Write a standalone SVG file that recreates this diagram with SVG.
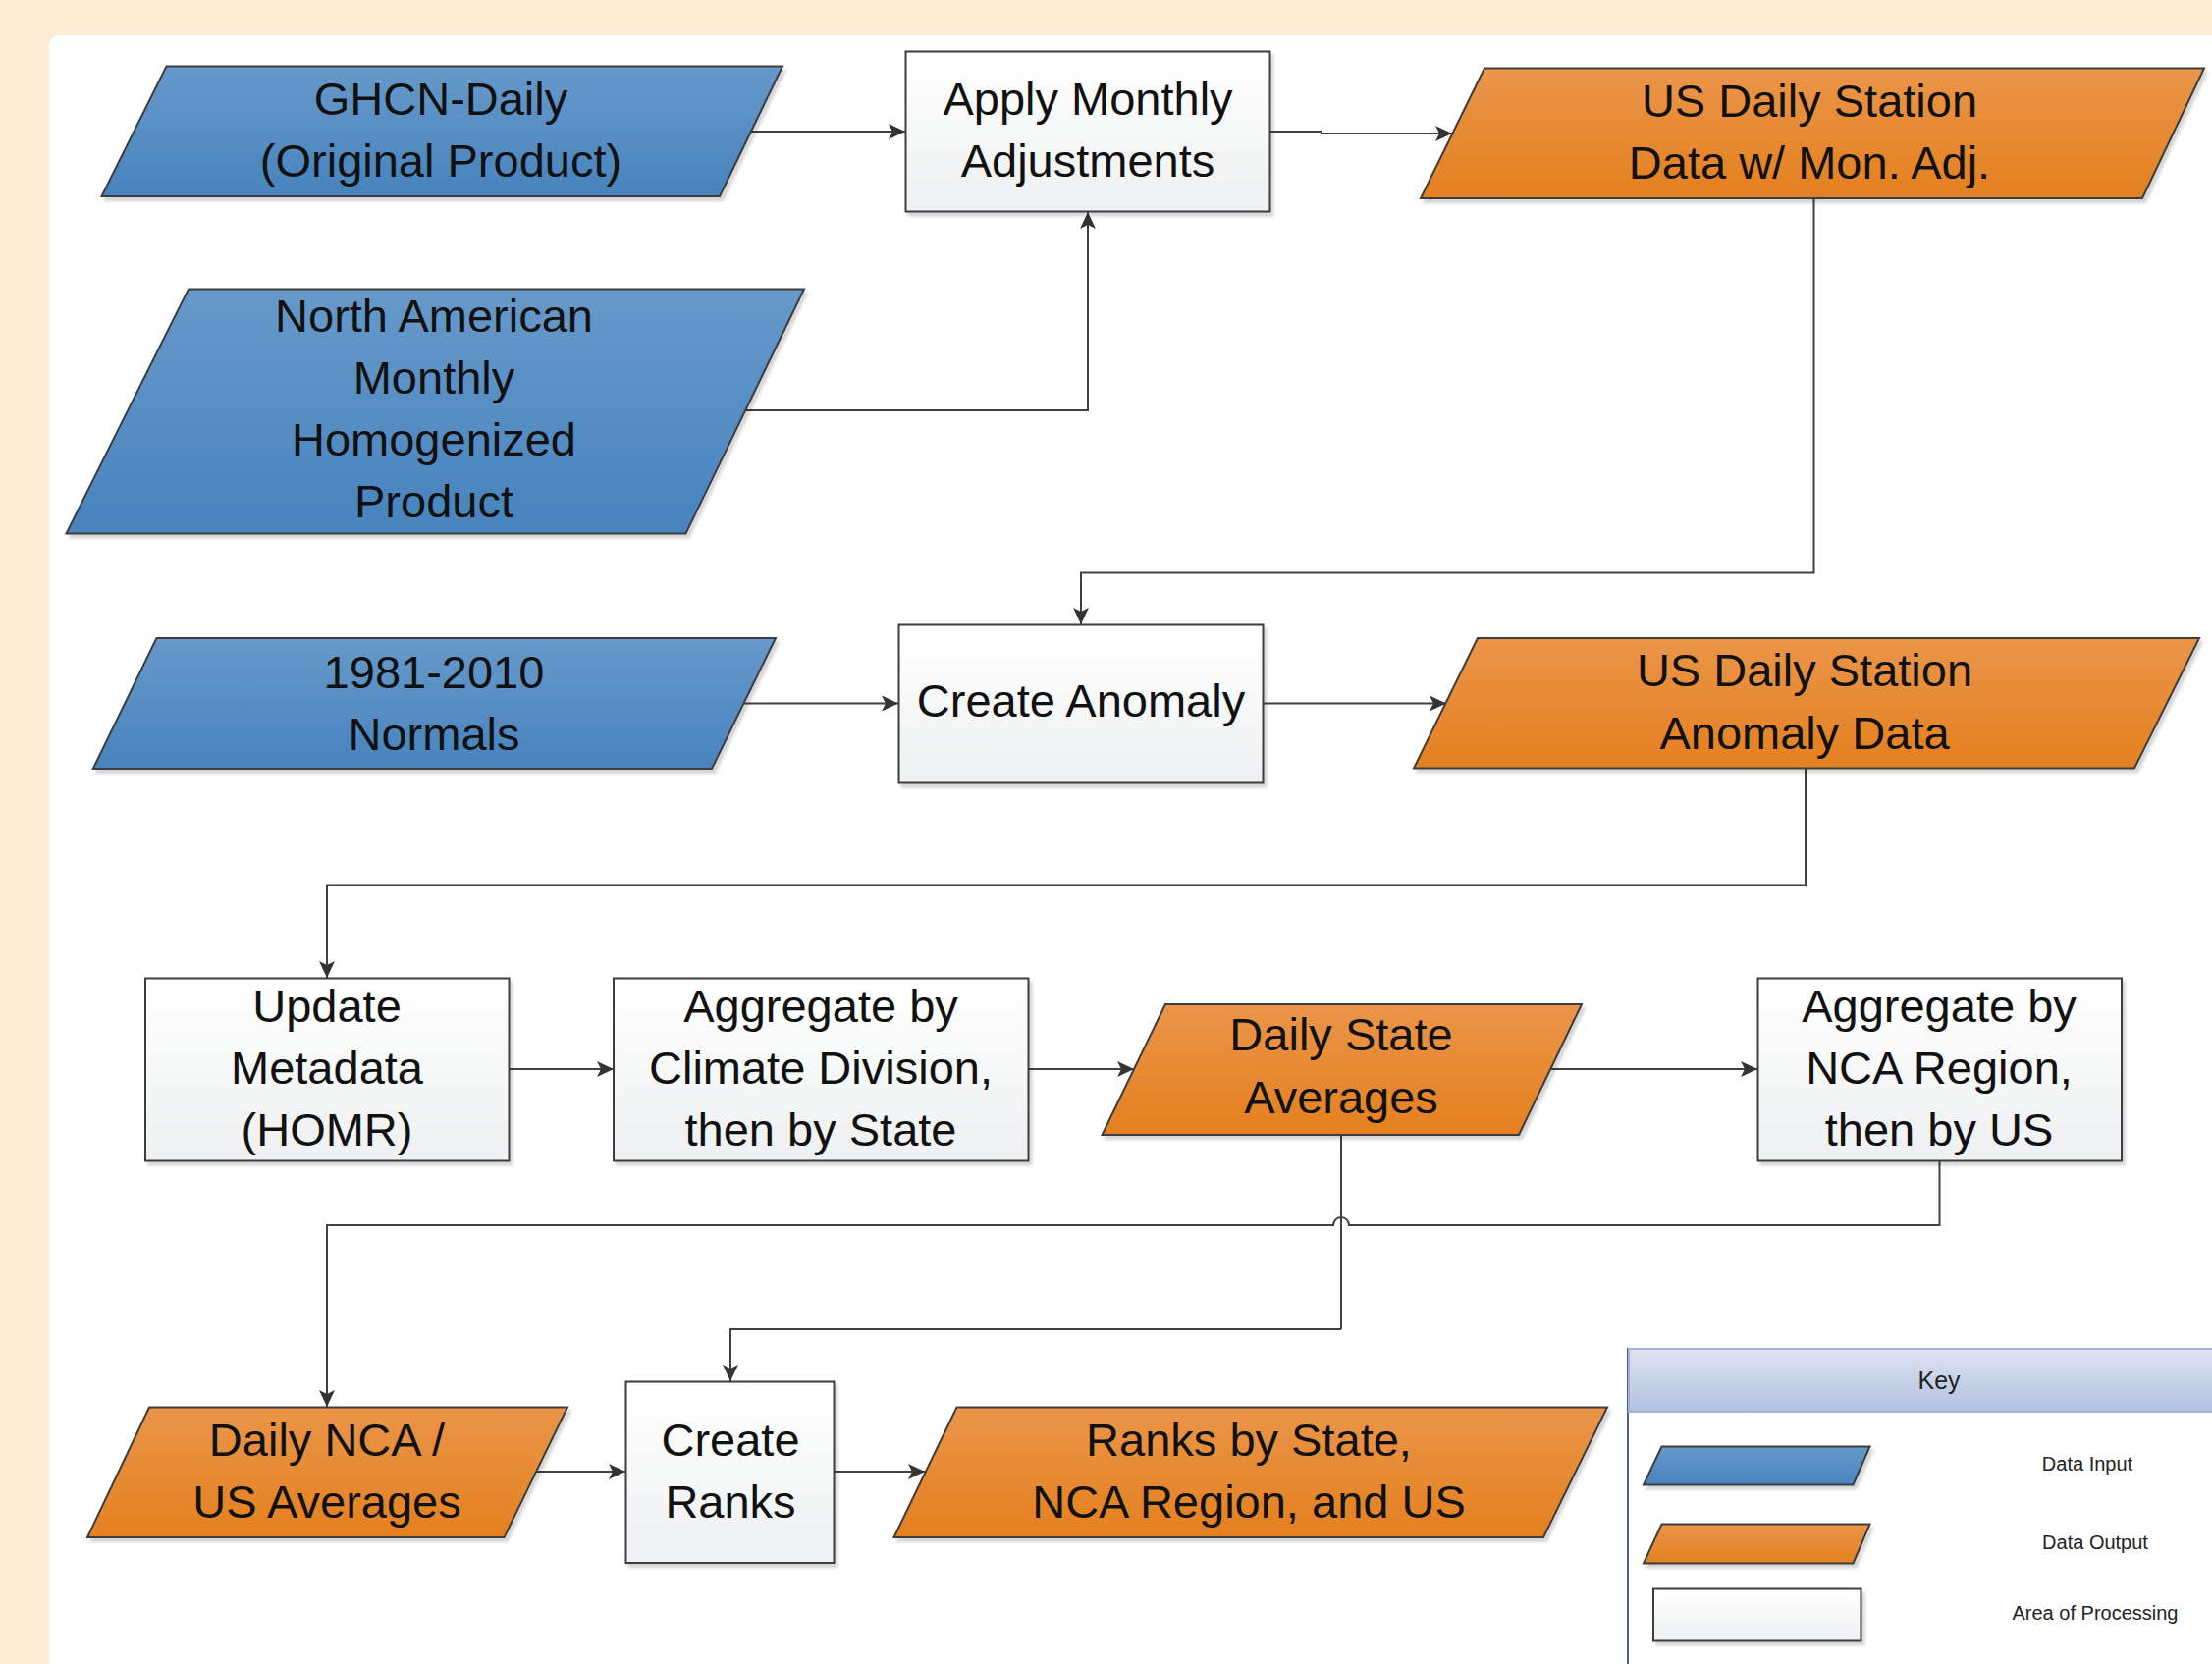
<svg xmlns="http://www.w3.org/2000/svg" width="2253" height="1695" viewBox="0 0 2253 1695">
<style>
.t{font-family:"Liberation Sans",Arial,sans-serif;font-size:47px;fill:#111;text-anchor:middle}
.k{font-family:"Liberation Sans",Arial,sans-serif;font-size:20px;fill:#222;text-anchor:middle}
.in{fill:url(#gBlue);stroke:#3c3c3c;stroke-width:2;filter:url(#sh)}
.out{fill:url(#gOrange);stroke:#3c3c3c;stroke-width:2;filter:url(#sh)}
.proc{fill:url(#gProc);stroke:#3c3c3c;stroke-width:2;filter:url(#sh)}
.c{fill:none;stroke:#404040;stroke-width:2}
.a{marker-end:url(#arr)}
</style>
<defs>
<linearGradient id="gBlue" x1="0" y1="0" x2="0" y2="1"><stop offset="0" stop-color="#6799CA"/><stop offset="1" stop-color="#4783BD"/></linearGradient>
<linearGradient id="gOrange" x1="0" y1="0" x2="0" y2="1"><stop offset="0" stop-color="#EA9549"/><stop offset="1" stop-color="#E4801F"/></linearGradient>
<linearGradient id="gProc" x1="0" y1="0" x2="0" y2="1"><stop offset="0" stop-color="#FFFFFF"/><stop offset="1" stop-color="#EEF0F1"/></linearGradient>
<linearGradient id="gKey" x1="0" y1="0" x2="0" y2="1"><stop offset="0" stop-color="#DDE3F0"/><stop offset="1" stop-color="#B2C0E0"/></linearGradient>
<filter id="sh" x="-10%" y="-10%" width="130%" height="130%"><feDropShadow dx="3" dy="4" stdDeviation="1.5" flood-color="#000" flood-opacity="0.16"/></filter>
<marker id="arr" markerUnits="userSpaceOnUse" markerWidth="18" markerHeight="18" refX="17" refY="9" orient="auto"><path d="M0,1 L17,9 L0,17 L4,9 z" fill="#333"/></marker>
</defs>
<rect x="0" y="0" width="2253" height="1695" fill="#FBEDD4"/>
<rect x="50" y="36" width="2230" height="1700" rx="10" fill="#FFFFFF"/>

<g id="connectors">
<path class="c a" d="M765,134 H922"/>
<path class="c a" d="M759,418 H1108 V216"/>
<path class="c a" d="M1294,134 H1346 V136 H1479"/>
<path class="c a" d="M1847.5,202 V583.5 H1101 V636"/>
<path class="c a" d="M758,716.5 H915"/>
<path class="c a" d="M1287,716.5 H1473"/>
<path class="c a" d="M1839,782.5 V901.5 H333 V996"/>
<path class="c a" d="M518.5,1089 H625"/>
<path class="c a" d="M1048,1089 H1155"/>
<path class="c a" d="M1579,1089 H1790"/>
<path class="c" d="M1366,1156 V1354"/>
<path class="c a" d="M1366,1354 H744 V1407"/>
<path class="c a" d="M1975.5,1183 V1248 H1374 A8,8 0 0 0 1358,1248 H333 V1433"/>
<path class="c a" d="M546,1499 H637"/>
<path class="c a" d="M850,1499 H942"/>
</g>

<g id="ghcn-daily">
<polygon class="in" points="169.5,67.5 797,67.5 733,200 103.5,200"/>
<text class="t" x="449" y="117">GHCN-Daily</text>
<text class="t" x="449" y="180">(Original Product)</text>
</g>
<g id="apply-monthly">
<rect class="proc" x="922.5" y="52.5" width="371" height="163"/>
<text class="t" x="1108" y="117">Apply Monthly</text>
<text class="t" x="1108" y="180">Adjustments</text>
</g>
<g id="us-daily-adj">
<polygon class="out" points="1512,69.5 2245,69.5 2182,202 1447,202"/>
<text class="t" x="1843" y="119">US Daily Station</text>
<text class="t" x="1843" y="182">Data w/ Mon. Adj.</text>
</g>
<g id="namh">
<polygon class="in" points="192,294.5 819,294.5 698.5,543.5 67.5,543.5"/>
<text class="t" x="442" y="338">North American</text>
<text class="t" x="442" y="401">Monthly</text>
<text class="t" x="442" y="464">Homogenized</text>
<text class="t" x="442" y="527">Product</text>
</g>
<g id="normals">
<polygon class="in" points="159.5,650 790,650 725,783 94.8,783"/>
<text class="t" x="442" y="701">1981-2010</text>
<text class="t" x="442" y="764">Normals</text>
</g>
<g id="create-anomaly">
<rect class="proc" x="915.5" y="636.5" width="371" height="161"/>
<text class="t" x="1101" y="730">Create Anomaly</text>
</g>
<g id="us-daily-anomaly">
<polygon class="out" points="1505,650 2240,650 2174,782.5 1440,782.5"/>
<text class="t" x="1838" y="699">US Daily Station</text>
<text class="t" x="1838" y="763">Anomaly Data</text>
</g>
<g id="update-metadata">
<rect class="proc" x="148" y="996.5" width="370.5" height="186"/>
<text class="t" x="333" y="1041">Update</text>
<text class="t" x="333" y="1104">Metadata</text>
<text class="t" x="333" y="1167">(HOMR)</text>
</g>
<g id="aggregate-climate">
<rect class="proc" x="625" y="996.5" width="422.5" height="186"/>
<text class="t" x="836" y="1041">Aggregate by</text>
<text class="t" x="836" y="1104">Climate Division,</text>
<text class="t" x="836" y="1167">then by State</text>
</g>
<g id="daily-state">
<polygon class="out" points="1187,1023 1611,1023 1547,1156 1122.5,1156"/>
<text class="t" x="1366" y="1070">Daily State</text>
<text class="t" x="1366" y="1134">Averages</text>
</g>
<g id="aggregate-nca">
<rect class="proc" x="1790.5" y="996.5" width="370.5" height="186"/>
<text class="t" x="1975" y="1041">Aggregate by</text>
<text class="t" x="1975" y="1104">NCA Region,</text>
<text class="t" x="1975" y="1167">then by US</text>
</g>
<g id="daily-nca">
<polygon class="out" points="152,1433.5 578,1433.5 513.5,1566 89,1566"/>
<text class="t" x="333" y="1483">Daily NCA /</text>
<text class="t" x="333" y="1546">US Averages</text>
</g>
<g id="create-ranks">
<rect class="proc" x="637.5" y="1407.5" width="212" height="184.5"/>
<text class="t" x="744" y="1483">Create</text>
<text class="t" x="744" y="1546">Ranks</text>
</g>
<g id="ranks">
<polygon class="out" points="974.5,1433.5 1637,1433.5 1572,1566 910.5,1566"/>
<text class="t" x="1272" y="1483">Ranks by State,</text>
<text class="t" x="1272" y="1546">NCA Region, and US</text>
</g>

<g id="key">
<rect x="1658" y="1374" width="620" height="340" fill="#FFFFFF" stroke="#4E5E88" stroke-width="2"/>
<rect x="1659" y="1374" width="620" height="64" fill="url(#gKey)" stroke="#A3B1D6" stroke-width="2"/>
<text x="1975" y="1415" font-family="Liberation Sans, Arial, sans-serif" font-size="25" fill="#222" text-anchor="middle">Key</text>
<polygon class="in" points="1692.5,1473.5 1904.5,1473.5 1887.5,1512.5 1674,1512.5"/>
<text class="k" x="2126" y="1498">Data Input</text>
<polygon class="out" points="1692.5,1552.5 1904.5,1552.5 1887.5,1592.5 1674,1592.5"/>
<text class="k" x="2134" y="1578">Data Output</text>
<rect class="proc" x="1684" y="1618.5" width="211.5" height="53"/>
<text class="k" x="2134" y="1650">Area of Processing</text>
</g>
</svg>
